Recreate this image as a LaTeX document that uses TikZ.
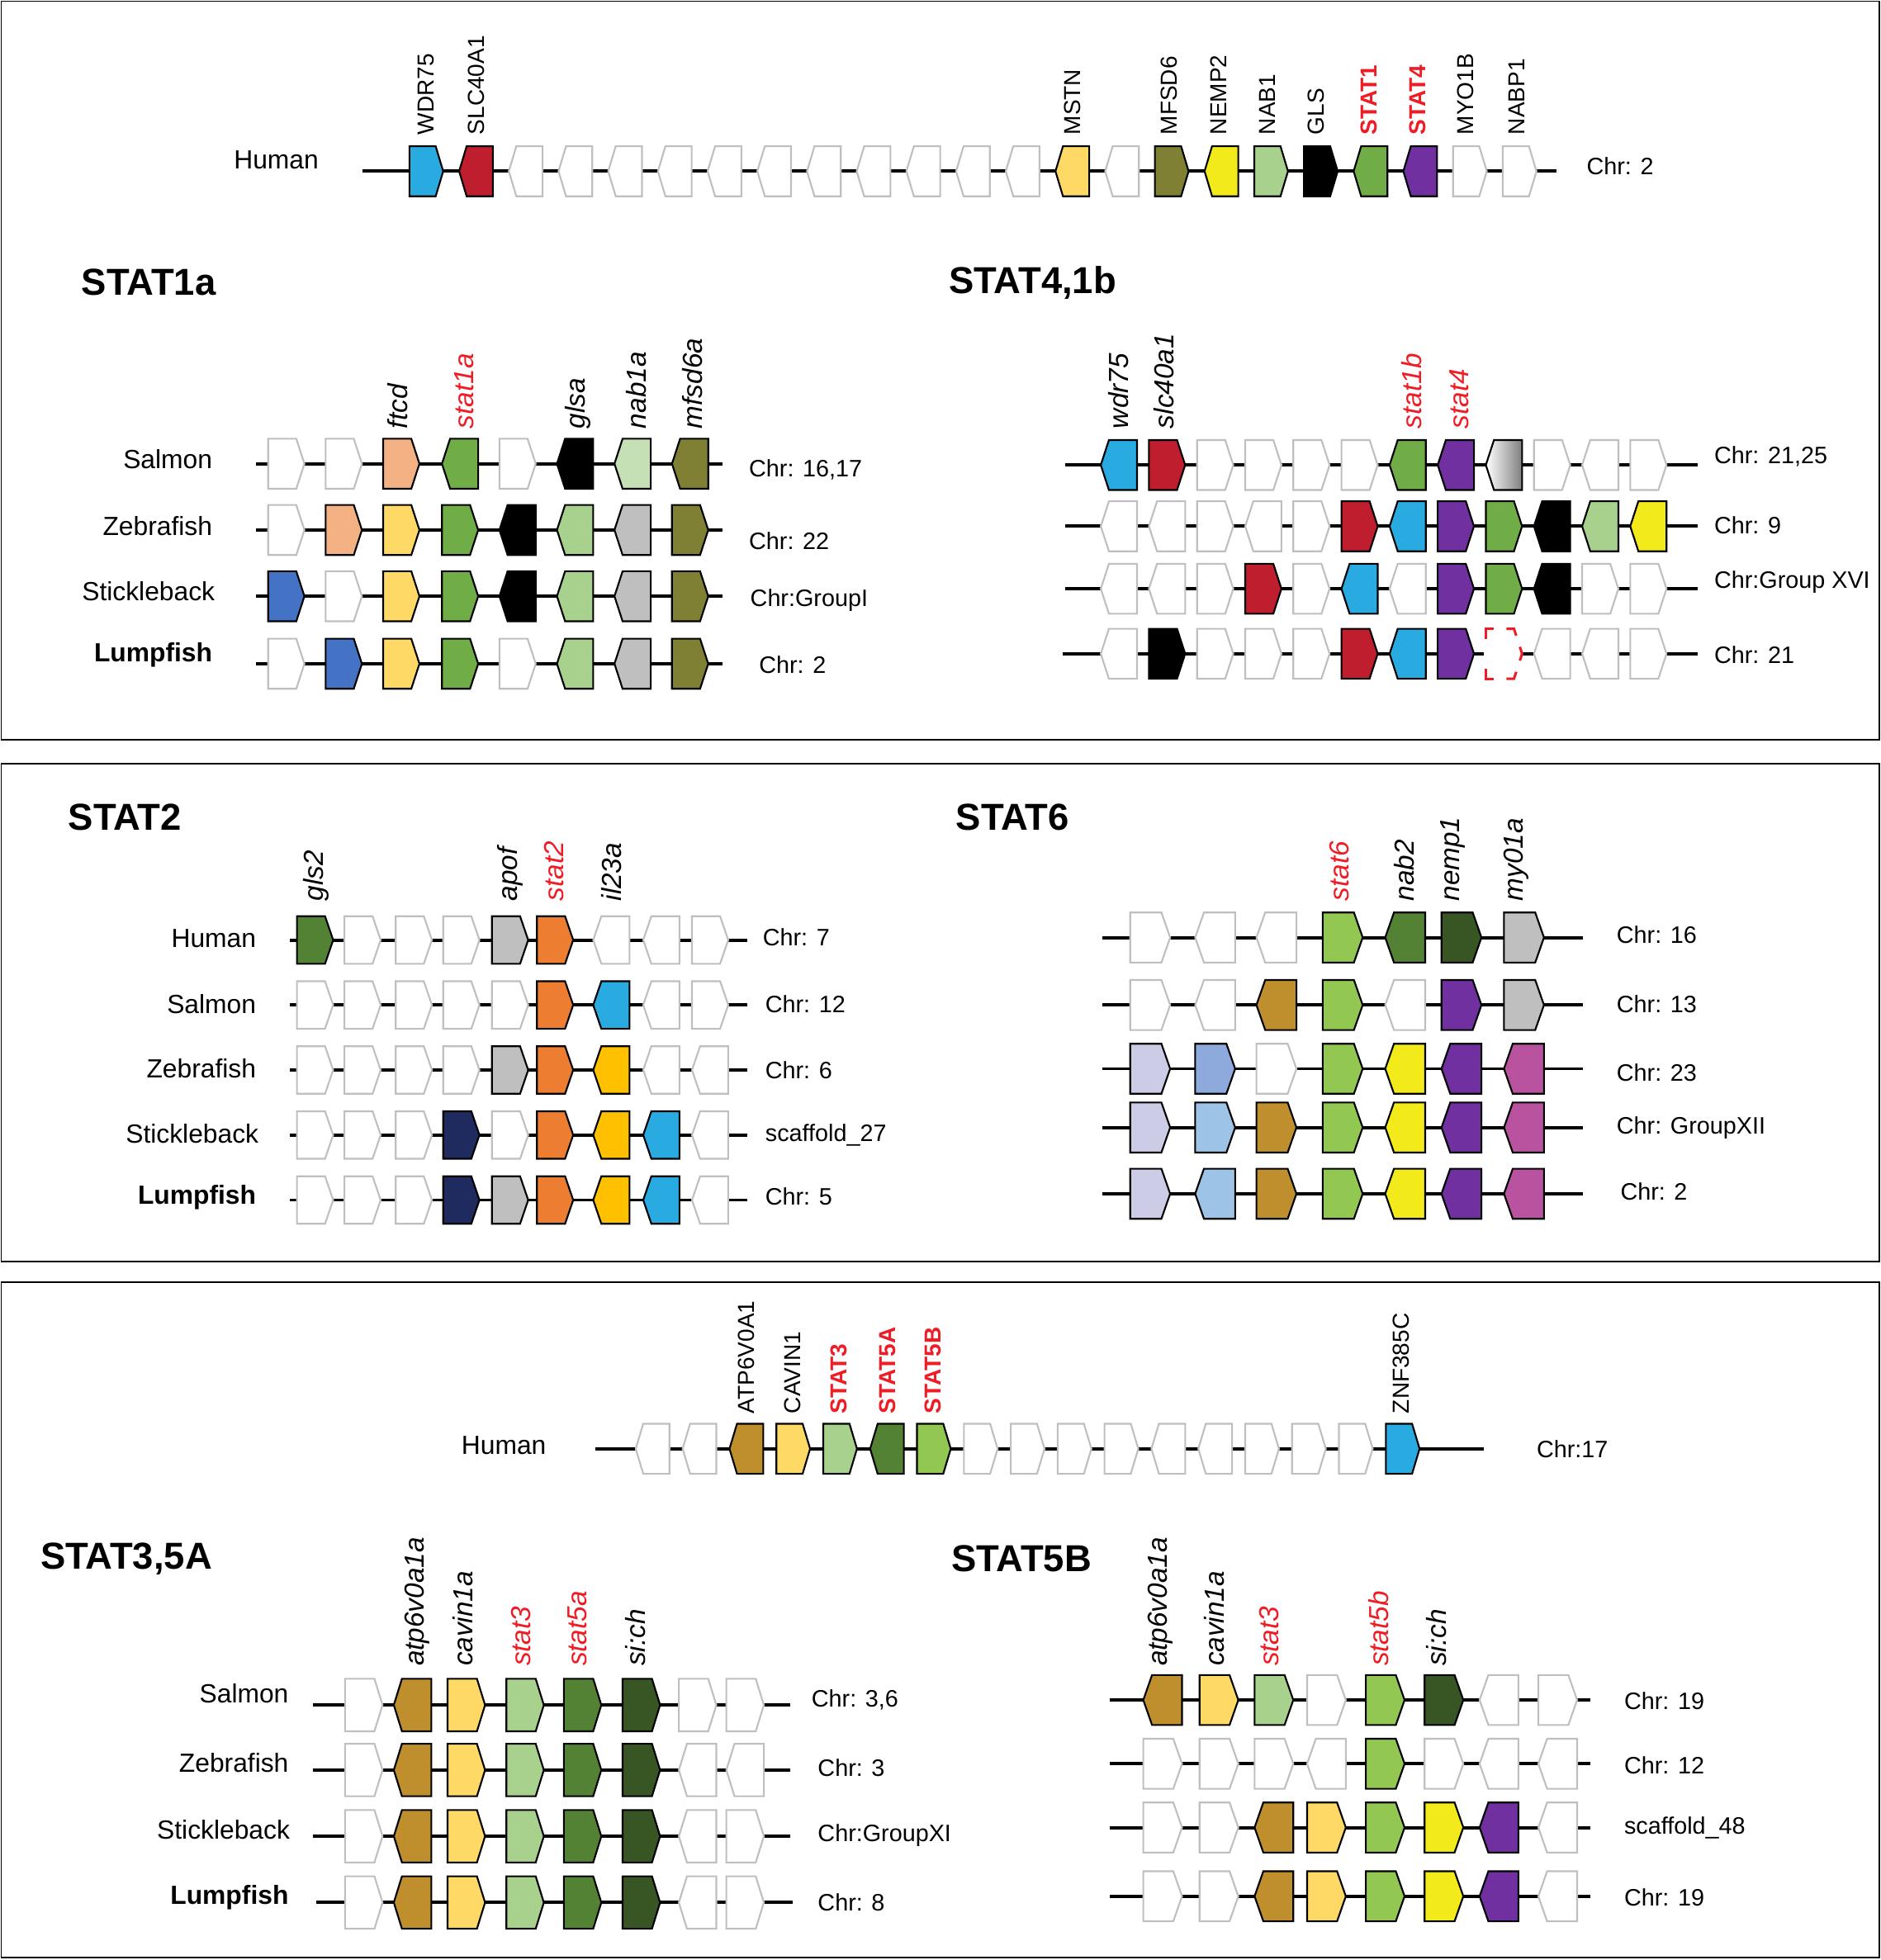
\documentclass[tikz,border=0pt]{standalone}
\usepackage{fontspec}
\setmainfont{Liberation Sans}
\definecolor{cBlue}{HTML}{29ABE2}
\definecolor{cRed}{HTML}{BE1E2D}
\definecolor{cYel}{HTML}{FFD966}
\definecolor{cPeach}{HTML}{F4B183}
\definecolor{cOlive}{HTML}{808034}
\definecolor{cBright}{HTML}{F2EA1A}
\definecolor{cLG}{HTML}{A9D18E}
\definecolor{cLGb}{HTML}{C5E0B4}
\definecolor{cGreen}{HTML}{70AD47}
\definecolor{cPurple}{HTML}{7030A0}
\definecolor{cGray}{HTML}{BFBFBF}
\definecolor{cRoyal}{HTML}{4472C4}
\definecolor{cDG}{HTML}{548235}
\definecolor{cDDG}{HTML}{375623}
\definecolor{cOrange}{HTML}{ED7D31}
\definecolor{cGold}{HTML}{FFC000}
\definecolor{cNavy}{HTML}{1F2A5E}
\definecolor{cBrown}{HTML}{BF8F2E}
\definecolor{cLime}{HTML}{92C851}
\definecolor{cLav}{HTML}{CCCCE6}
\definecolor{cPeri}{HTML}{8EA9DB}
\definecolor{cLB}{HTML}{9DC3E6}
\definecolor{cMag}{HTML}{B9529F}
\definecolor{cTxtRed}{HTML}{EE1C25}
\tikzset{
  wh/.style={fill=white,draw=cGray},
  gBlue/.style={fill=cBlue,draw=black},
  gRed/.style={fill=cRed,draw=black},
  gYel/.style={fill=cYel,draw=black},
  gPeach/.style={fill=cPeach,draw=black},
  gOlive/.style={fill=cOlive,draw=black},
  gBright/.style={fill=cBright,draw=black},
  gLG/.style={fill=cLG,draw=black},
  gLGb/.style={fill=cLGb,draw=black},
  gGreen/.style={fill=cGreen,draw=black},
  gPurple/.style={fill=cPurple,draw=black},
  gBlack/.style={fill=black,draw=black},
  gGray/.style={fill=cGray,draw=black},
  gRoyal/.style={fill=cRoyal,draw=black},
  gDG/.style={fill=cDG,draw=black},
  gDDG/.style={fill=cDDG,draw=black},
  gOrange/.style={fill=cOrange,draw=black},
  gGold/.style={fill=cGold,draw=black},
  gNavy/.style={fill=cNavy,draw=black},
  gBrown/.style={fill=cBrown,draw=black},
  gLime/.style={fill=cLime,draw=black},
  gLav/.style={fill=cLav,draw=black},
  gPeri/.style={fill=cPeri,draw=black},
  gLB/.style={fill=cLB,draw=black},
  gMag/.style={fill=cMag,draw=black},
  gGrad/.style={draw=black,left color=white,right color=black!50},
  gNone/.style={},
  dashpart/.style={draw=cTxtRed,line width=2pt},
  chrom/.style={line width=2.6pt},
  panel/.style={line width=1.3pt},
  sp/.style={font=\fontsize{21}{24}\selectfont, anchor=east, inner sep=0},
  spb/.style={font=\fontsize{21}{24}\selectfont\bfseries, anchor=east, inner sep=0},
  chr/.style={font=\fontsize{19}{22}\selectfont, anchor=west, inner sep=0},
  ttl/.style={font=\fontsize{30}{34}\selectfont\bfseries, inner sep=0},
  hl/.style={rotate=90, anchor=west, inner sep=0, font=\fontsize{18.5}{20}\selectfont},
  hlr/.style={rotate=90, anchor=west, inner sep=0, text=cTxtRed, font=\fontsize{18.5}{20}\selectfont\bfseries},
  il/.style={rotate=90, anchor=west, inner sep=0, font=\fontsize{22}{24}\selectfont\itshape},
  ilr/.style={rotate=90, anchor=west, inner sep=0, text=cTxtRed, font=\fontsize{22}{24}\selectfont\itshape},
}
% gene: x, y, direction (1 right / -1 left), style
\newcommand{\G}[4]{\path[#4,line width=1.4pt]
  ({#1-(#3)*\gw/2},{#2-\gh/2}) -- ({#1+(#3)*(\gw/2-\gt)},{#2-\gh/2}) --
  ({#1+(#3)*\gw/2},{#2}) -- ({#1+(#3)*(\gw/2-\gt)},{#2+\gh/2}) --
  ({#1-(#3)*\gw/2},{#2+\gh/2}) -- cycle;}
% row: y, x1, x2, array of x, list dir/style
\newcommand{\Row}[5]{\draw[chrom] (#2,#1) -- (#3,#1);
  \foreach \d/\c [count=\k from 0] in {#5} {\pgfmathsetmacro\xx{{#4}[\k]}\G{\xx}{#1}{\d}{\c}}}
\begin{document}
\begin{tikzpicture}[x=1pt,y=-1pt]
\useasboundingbox (0,0) rectangle (1504,1568);
\fill[white] (0,0) rectangle (1504,1568);
% ---------------- panel 1 ----------------
\draw[panel] (1,1) rectangle (1503,592);
\def\gw{27}\def\gh{40}\def\gt{6}
\node (hum1) at (221,128) [font=\fontsize{21}{24}\selectfont] {Human};
\Row{137}{290}{1245}{341,380.75,420.5,460.25,500,539.75,579.5,619.25,659,698.75,738.5,778.25,818,857.75,897.5,937.25,977,1016.75,1056.5,1096.25,1136,1175.75,1215.5}{1/gBlue,-1/gRed,-1/wh,-1/wh,-1/wh,-1/wh,-1/wh,-1/wh,-1/wh,-1/wh,-1/wh,-1/wh,-1/wh,-1/gYel,-1/wh,1/gOlive,-1/gBright,1/gLG,1/gBlack,-1/gGreen,-1/gPurple,1/wh,1/wh}
\node[chr] (chrA) at (1269,133) {Chr: 2};
\node[hl] (lWDR) at (341,108) {WDR75};
\node[hl] (lSLC) at (381,108) {SLC40A1};
\node[hl] (lMSTN) at (858,108) {MSTN};
\node[hl] (lMFSD) at (935,108) {MFSD6};
\node[hl] (lNEMP) at (975,108) {NEMP2};
\node[hl] (lNAB) at (1014,108) {NAB1};
\node[hl] (lGLS) at (1053,108) {GLS};
\node[hlr] (lS1) at (1095,108) {STAT1};
\node[hlr] (lS4) at (1134,108) {STAT4};
\node[hl] (lMYO) at (1172,108) {MYO1B};
\node[hl] (lNABP) at (1213,108) {NABP1};
\node[ttl] (t1a) at (119,226) {STAT1a};
\node[ttl] (t41b) at (826,226) {STAT4,1b};
% STAT1a
\def\gw{29}\def\gh{40}\def\gt{6.5}
\def\xa{229,275,321,368,414,460,506,552}
\Row{371}{205}{578}{\xa}{1/wh,1/wh,1/gPeach,-1/gGreen,1/wh,-1/gBlack,-1/gLGb,-1/gOlive}
\Row{424}{205}{578}{\xa}{1/wh,1/gPeach,1/gYel,1/gGreen,-1/gBlack,-1/gLG,-1/gGray,1/gOlive}
\Row{477}{205}{578}{\xa}{1/gRoyal,1/wh,1/gYel,1/gGreen,-1/gBlack,-1/gLG,-1/gGray,1/gOlive}
\Row{531}{205}{578}{\xa}{1/wh,1/gRoyal,1/gYel,1/gGreen,1/wh,-1/gLG,-1/gGray,1/gOlive}
\node[sp] (s1) at (170,367) {Salmon};
\node[sp] (s2) at (170,421) {Zebrafish};
\node[sp] (s3) at (172,473) {Stickleback};
\node[spb] (s4) at (170,524) {Lumpfish};
\node[chr] (c1) at (599,376) {Chr: 16,17};
\node[chr] (c2) at (599,433) {Chr: 22};
\node[chr] (c3) at (600,480) {Chr:GroupI};
\node[chr] (c4) at (607,532) {Chr: 2};
\node[il] (lftcd) at (318,343) {ftcd};
\node[ilr] (lst1a) at (371,343) {stat1a};
\node[il] (lglsa) at (462,343) {glsa};
\node[il] (lnab1a) at (509,343) {nab1a};
\node[il] (lmfsd) at (554,343) {mfsd6a};
% STAT4,1b
\def\xb{895,933.5,972,1010.5,1049,1087.5,1126,1164.5,1203,1241.5,1280,1318.5}
\Row{372}{852}{1358}{\xb}{-1/gBlue,1/gRed,1/wh,1/wh,1/wh,1/wh,-1/gGreen,-1/gPurple,-1/gGrad,1/wh,-1/wh,1/wh}
\Row{421}{852}{1358}{\xb}{-1/wh,-1/wh,1/wh,-1/wh,1/wh,1/gRed,-1/gBlue,1/gPurple,1/gGreen,-1/gBlack,-1/gLG,-1/gBright}
\Row{471}{852}{1358}{\xb}{-1/wh,-1/wh,1/wh,1/gRed,1/wh,-1/gBlue,-1/wh,1/gPurple,1/gGreen,-1/gBlack,1/wh,1/wh}
\Row{523}{850}{1358}{\xb}{-1/wh,1/gBlack,1/wh,1/wh,1/wh,1/gRed,-1/gBlue,1/gPurple,1/gNone,-1/wh,-1/wh,1/wh}
% missing gene placeholder (dashed red corners)
\fill[white] (1187,502) rectangle (1218,544);
\draw[dashpart] (1188.5,511) -- (1188.5,503) -- (1195,503);
\draw[dashpart] (1205,503) -- (1211,503) -- (1212.8,508.5);
\draw[dashpart] (1215.7,517.5) -- (1217.5,523) -- (1215.7,528.5);
\draw[dashpart] (1212.8,537.5) -- (1211,543) -- (1205,543);
\draw[dashpart] (1195,543) -- (1188.5,543) -- (1188.5,535);
\node[chr] (c5) at (1371,365) {Chr: 21,25};
\node[chr] (c6) at (1371,420) {Chr: 9};
\node[chr] (c7) at (1371,466) {Chr:Group XVI};
\node[chr] (c8) at (1371,524) {Chr: 21};
\node[il] (lwdr) at (895,343) {wdr75};
\node[il] (lslc) at (931,343) {slc40a1};
\node[ilr] (lst1b) at (1129,343) {stat1b};
\node[ilr] (lst4) at (1167,343) {stat4};
% ---------------- panel 2 ----------------
\draw[panel] (1,611) rectangle (1503,1009);
\node[ttl] (t2) at (100,654) {STAT2};
\node[ttl] (t6) at (810,654) {STAT6};
\def\gw{29}\def\gh{38}\def\gt{6.5}
\def\xc{252,290,331,369,408,444,489,529,568}
\Row{752}{232}{598}{\xc}{1/gDG,1/wh,1/wh,1/wh,1/gGray,1/gOrange,-1/wh,-1/wh,1/wh}
\Row{804}{232}{598}{\xc}{1/wh,1/wh,1/wh,1/wh,1/wh,1/gOrange,-1/gBlue,-1/wh,1/wh}
\Row{856}{232}{598}{\xc}{1/wh,1/wh,1/wh,1/wh,1/gGray,1/gOrange,-1/gGold,-1/wh,-1/wh}
\Row{908}{232}{598}{\xc}{1/wh,1/wh,1/wh,1/gNavy,1/wh,1/gOrange,-1/gGold,-1/gBlue,-1/wh}
\Row{960}{232}{598}{\xc}{1/wh,1/wh,1/wh,1/gNavy,1/gGray,1/gOrange,-1/gGold,-1/gBlue,-1/wh}
\node[sp] (s5) at (205,751) {Human};
\node[sp] (s6) at (205,803) {Salmon};
\node[sp] (s7) at (205,855) {Zebrafish};
\node[sp] (s8) at (207,907) {Stickleback};
\node[spb] (s9) at (205,958) {Lumpfish};
\node[chr] (c9) at (610,750) {Chr: 7};
\node[chr] (c10) at (612,803) {Chr: 12};
\node[chr] (c11) at (612,856) {Chr: 6};
\node[chr] (c12) at (612,908) {scaffold\_27};
\node[chr] (c13) at (612,957) {Chr: 5};
\node[il] (lgls2) at (253,721) {gls2};
\node[il] (lapof) at (408,721) {apof};
\node[ilr] (lst2) at (443,721) {stat2};
\node[il] (lil23) at (489,721) {il23a};
% STAT6
\def\gw{32}\def\gh{40}\def\gt{7}
\def\xd{920,972,1021,1074,1124,1169,1219}
\Row{750}{882}{1266}{\xd}{1/wh,-1/wh,-1/wh,1/gLime,-1/gDG,1/gDDG,1/gGray}
\Row{804}{882}{1266}{\xd}{1/wh,-1/wh,-1/gBrown,1/gLime,-1/wh,1/gPurple,1/gGray}
\Row{855}{882}{1266}{\xd}{1/gLav,1/gPeri,1/wh,1/gLime,-1/gBright,-1/gPurple,-1/gMag}
\Row{902}{882}{1266}{\xd}{1/gLav,1/gLB,1/gBrown,1/gLime,-1/gBright,-1/gPurple,-1/gMag}
\Row{955}{882}{1266}{\xd}{1/gLav,-1/gLB,1/gBrown,1/gLime,-1/gBright,-1/gPurple,-1/gMag}
\node[chr] (c14) at (1293,748) {Chr: 16};
\node[chr] (c15) at (1293,803) {Chr: 13};
\node[chr] (c16) at (1293,858) {Chr: 23};
\node[chr] (c17) at (1293,902) {Chr: GroupXII};
\node[chr] (c18) at (1296,953) {Chr: 2};
\node[ilr] (lst6) at (1071,721) {stat6};
\node[il] (lnab2) at (1123,721) {nab2};
\node[il] (lnemp) at (1162,721) {nemp1};
\node[il] (lmy) at (1213,721) {my01a};
% ---------------- panel 3 ----------------
\draw[panel] (1,1026) rectangle (1503,1566);
\def\gw{27}\def\gh{40}\def\gt{6}
\node (hum2) at (403,1156) [font=\fontsize{21}{24}\selectfont] {Human};
\Row{1159}{476}{1187}{522,559.5,597,634.5,672,709.5,747,784.5,822,859.5,897,934.5,972,1009.5,1047,1084.5,1122}{-1/wh,-1/wh,-1/gBrown,1/gYel,1/gLG,-1/gDG,1/gLime,1/wh,1/wh,1/wh,1/wh,-1/wh,-1/wh,1/wh,1/wh,1/wh,1/gBlue}
\node[chr] (c19) at (1229,1159) {Chr:17};
\node[hl] (lATP) at (597,1131) {ATP6V0A1};
\node[hl] (lCAV) at (634,1131) {CAVIN1};
\node[hlr] (lS3) at (671,1131) {STAT3};
\node[hlr] (lS5A) at (710,1131) {STAT5A};
\node[hlr] (lS5B) at (746,1131) {STAT5B};
\node[hl] (lZNF) at (1121,1131) {ZNF385C};
\node[ttl] (t35) at (101,1247) {STAT3,5A};
\node[ttl] (t5b) at (817,1247) {STAT5B};
% STAT3,5A
\def\gw{30}\def\gh{42}\def\gt{6.5}
\def\xe{291,330,373,420,466,513,558,596}
\Row{1364}{250}{632}{\xe}{1/wh,-1/gBrown,1/gYel,1/gLG,1/gDG,1/gDDG,1/wh,1/wh}
\Row{1416}{250}{632}{\xe}{1/wh,-1/gBrown,1/gYel,1/gLG,1/gDG,1/gDDG,-1/wh,-1/wh}
\Row{1469}{250}{632}{\xe}{1/wh,-1/gBrown,1/gYel,1/gLG,1/gDG,1/gDDG,-1/wh,1/wh}
\Row{1522}{253}{634}{\xe}{1/wh,-1/gBrown,1/gYel,1/gLG,1/gDG,1/gDDG,-1/wh,1/wh}
\node[sp] (s10) at (231,1355) {Salmon};
\node[sp] (s11) at (231,1410) {Zebrafish};
\node[sp] (s12) at (232,1464) {Stickleback};
\node[spb] (s13) at (231,1518) {Lumpfish};
\node[chr] (c20) at (649,1360) {Chr: 3,6};
\node[chr] (c21) at (654,1414) {Chr: 3};
\node[chr] (c22) at (654,1468) {Chr:GroupXI};
\node[chr] (c23) at (654,1522) {Chr: 8};
\node[il] (latp1) at (334,1333) {atp6v0a1a};
\node[il] (lcav1) at (370,1333) {cavin1a};
\node[ilr] (lst3a) at (417,1333) {stat3};
\node[ilr] (lst5a) at (462,1333) {stat5a};
\node[il] (lsich1) at (508,1333) {si:ch};
% STAT5B
\def\gw{31}\def\gh{40}\def\gt{7}
\def\xf{930,975,1019,1061,1108,1155,1199,1246}
\Row{1360}{888}{1272}{\xf}{-1/gBrown,1/gYel,1/gLG,1/wh,1/gLime,1/gDDG,-1/wh,1/wh}
\Row{1411}{888}{1272}{\xf}{1/wh,1/wh,1/wh,-1/wh,1/gLime,1/wh,-1/wh,-1/wh}
\Row{1462}{888}{1272}{\xf}{1/wh,1/wh,-1/gBrown,1/gYel,1/gLime,1/gBright,-1/gPurple,-1/wh}
\Row{1517}{888}{1272}{\xf}{1/wh,1/wh,-1/gBrown,1/gYel,1/gLime,1/gBright,-1/gPurple,-1/wh}
\node[chr] (c24) at (1299,1361) {Chr: 19};
\node[chr] (c25) at (1299,1412) {Chr: 12};
\node[chr] (c26) at (1299,1462) {scaffold\_48};
\node[chr] (c27) at (1299,1518) {Chr: 19};
\node[il] (latp2) at (928,1333) {atp6v0a1a};
\node[il] (lcav2) at (971,1333) {cavin1a};
\node[ilr] (lst3b) at (1015,1333) {stat3};
\node[ilr] (lst5b) at (1103,1333) {stat5b};
\node[il] (lsich2) at (1149,1333) {si:ch};
\end{tikzpicture}
\end{document}
